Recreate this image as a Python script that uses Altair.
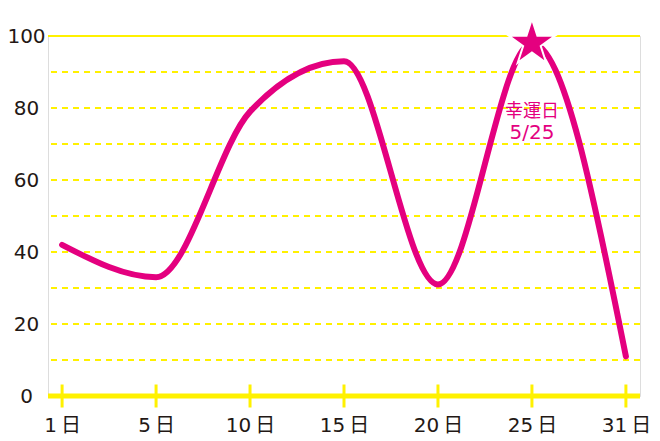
import altair as alt
import pandas as pd

days = [1, 5, 10, 15, 20, 25, 31]
values = [42, 33, 79, 93, 31, 98, 11]
dashed_levels = [10, 20, 30, 40, 50, 60, 70, 80, 90]
solid_levels = [100]
base_levels = [0]
y_ticks = [0, 20, 40, 60, 80, 100]
lucky_day = [25]
lucky_value = [98]
lucky_title = ["幸運日"]
lucky_date = ["5/25"]

MAGENTA = "#E4007F"
YELLOW = "#FFF100"
INK = "#231815"
FONT = "DejaVu Sans, Noto Sans CJK JP"
CJK = "Noto Sans CJK JP"
STAR = ("M0,-1L0.2245,-0.309L0.951,-0.309L0.3633,0.118L0.588,0.809L0,0.382"
        "L-0.588,0.809L-0.3633,0.118L-0.951,-0.309L-0.2245,-0.309Z")

df = pd.DataFrame({"day": days, "value": values})
dashed_df = pd.DataFrame({"level": dashed_levels})
solid_df = pd.DataFrame({"level": solid_levels})
base_df = pd.DataFrame({"level": base_levels})
tick_df = pd.DataFrame({"day": days, "level": base_levels * len(days)})
lucky_df = pd.DataFrame({"day": lucky_day, "value": lucky_value,
                         "title": lucky_title, "date": lucky_date})

x_scale = alt.Scale(type="point", padding=0.15)
y_scale = alt.Scale(domain=[0, 100], nice=False)

x_axis = alt.Axis(
    title=None, orient="bottom", labelExpr="datum.value + '\u2009日'", labelAngle=0, domain=False,
    ticks=False, tickSize=0, grid=False, labelPadding=29, labelBaseline="middle",
    labelFont=FONT, labelFontSize=20, labelColor=INK,
)
y_axis = alt.Axis(
    title=None, orient="left", values=y_ticks, domain=False, ticks=False, tickSize=0, grid=False,
    labelAlign="center", labelBaseline="middle", labelPadding=22,
    labelFont=FONT, labelFontSize=20, labelColor=INK,
)

def X(field="day"):
    return alt.X(f"{field}:O", sort=days, scale=x_scale, axis=x_axis)

def Y(field):
    return alt.Y(f"{field}:Q", scale=y_scale, axis=y_axis)

dashed = alt.Chart(dashed_df).mark_rule(
    color=YELLOW, strokeWidth=2, strokeDash=[6, 5]
).encode(y=Y("level"))

solid = alt.Chart(solid_df).mark_rule(color=YELLOW, strokeWidth=2).encode(y=Y("level"))

base = alt.Chart(base_df).mark_rule(color=YELLOW, strokeWidth=5).encode(y=Y("level"))

ticks = alt.Chart(tick_df).mark_tick(
    orient="vertical", color=YELLOW, size=23, thickness=3, opacity=1
).encode(x=X(), y=Y("level"))

line = alt.Chart(df).mark_line(
    color=MAGENTA, strokeWidth=6, interpolate="monotone", strokeCap="round", strokeJoin="round"
).encode(x=X(), y=Y("value"))

star = alt.Chart(lucky_df).mark_point(
    shape=STAR, filled=True, fill=MAGENTA, stroke="white", strokeWidth=2,
    size=2350, opacity=1, fillOpacity=1, strokeOpacity=1
).encode(x=X(), y=Y("value"))

title_text = alt.Chart(lucky_df).mark_text(
    color=MAGENTA, font=CJK, fontSize=18, baseline="middle", align="center", dy=69
).encode(x=X(), y=Y("value"), text="title:N")

date_text = alt.Chart(lucky_df).mark_text(
    color=MAGENTA, font="DejaVu Sans", fontSize=20, baseline="middle", align="center", dy=90
).encode(x=X(), y=Y("value"), text="date:N")

chart = alt.layer(dashed, solid, base, ticks, line, star, title_text, date_text).properties(
    width=592, height=360,
    autosize=alt.AutoSizeParams(type="none"),
    padding={"left": 40, "top": 28, "right": 12, "bottom": 45},
).configure_view(stroke=None).configure(background="white")

chart.save("out.html", embed_options={"renderer": "svg", "actions": False})
